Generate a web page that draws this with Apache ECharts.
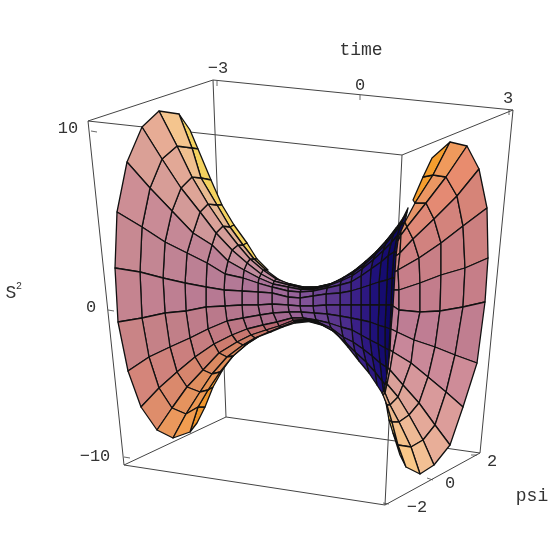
<!DOCTYPE html>
<html><head><meta charset="utf-8">
<style>html,body{margin:0;padding:0;background:#fff}#c{width:554px;height:554px}</style>
<script src="https://cdn.jsdelivr.net/npm/echarts@6/dist/echarts.min.js"></script>
</head><body><div id="c"></div>
<script>
// Mesh vertices (x, y on a 0-554 plane), ring by ring.
const throatRings = [
[[179,114],[159,111],[142,127],[127,162],[117,212],[115,268],[118,322],[128,371],[141,407],[157,430],[173,438],[190,432]],
[[192,148],[177,146],[162,159],[150,188],[142,227],[140,272],[142,318],[149,357],[159,388],[172,408],[186,414],[198,407]],
[[201,178],[192,177],[181,188],[172,211],[165,242],[163,278],[165,313],[170,347],[177,372],[187,387],[200,392],[208,390]],
[[217,205],[208,204],[200,212],[193,233],[187,253],[185,283],[186,311],[190,338],[195,357],[203,370],[212,374],[220,372]],
[[230,227],[223,226],[216,233],[212,245],[207,263],[206,287],[206,307],[208,329],[214,344],[219,353],[227,357],[233,356]],
[[243,245],[238,245],[232,250],[228,261],[225,274],[224,290],[225,306],[227,321],[232,335],[237,342],[243,345],[247,344]],
[[254,259],[250,259],[247,263],[244,270],[243,278],[242,291],[242,305],[243,318],[247,329],[251,335],[255,338],[258,337]],
[[266,270],[263,270],[261,274],[259,278],[258,283],[258,292],[258,305],[260,315],[263,325],[266,330],[269,332],[271,332]],
[[278,279],[276,279],[274,281],[273,284],[272,287],[272,293],[272,304],[273,313],[277,322],[279,326],[281,327],[283,327]],
[[291,285],[290,284],[289,285],[288,287],[288,291],[288,297],[288,305],[289,312],[292,318],[293,320.5],[294,322],[295,323]],
[[305,288],[303,287],[302,288],[301,289.5],[300,292],[300,298],[300,306],[301,312],[303,318],[305,319.5],[307,320.5],[309,321.5]],
[[318,288],[317,287],[315,287.5],[314,289],[313,291],[313,296],[313,306],[314,313],[316,320],[318,322],[320,324],[322,325]],
[[331,284],[330,284],[329,284.5],[328,286],[327,288],[326,294],[326,305],[327,314],[329,323],[331,328],[333,331],[335,332]],
[[344,277],[343,278],[342,279],[341,281],[340,285],[340,293],[340,305],[340,316],[341,327],[343,337],[346,343],[348,347]],
[[355,270],[354,271],[353,273],[352,276],[351,282],[351,291],[351,305],[351,318],[352,330],[353,342],[355,352],[359,361]],
[[366,261],[365,262],[364,265],[362,269],[361,276],[361,288],[361,305],[361,320],[361,335],[363,349],[366,362],[369,373]],
[[377,251],[376,252],[375,255],[373,260],[371,269],[370,285],[370,305],[370,322],[370,340],[372,356],[375,372],[377,385]],
[[387,240],[386,241],[385,245],[383,251],[381,262],[379,282],[379,305],[378,325],[378,344],[380,363],[382,381],[384,396]],
[[396,228],[395,230],[393,235],[391,243],[388,256],[387,280],[386,305],[385,327],[385,348],[386,367],[388,388],[389,412]],
[[403,218],[402,222],[400,226],[397,236],[394,252],[392,278],[391,305],[390,329],[389,350],[389,372],[390,400],[391,420]],
[[408,208],[407,212],[405,222],[402,235],[400,253],[398,278],[397,305],[396,330],[394,352],[393,372],[393,415],[394,435]]
];
const sheetRings = [
[[398,238],[398,241],[396,256],[395,272],[394,290],[393,306],[391,329],[390,350],[388,368],[386,381],[384,391],[382,393]],
[[401,231],[401,235],[400,253],[398,270],[399,290],[399,310],[397,332],[393,352],[390,370],[387,384],[385,393],[383,395]],
[[405,222],[407,227],[413,239],[419,258],[420,283],[420,312],[414,340],[411,363],[403,385],[398,397],[390,405],[387,405]],
[[415,203],[426,203],[434,219],[441,243],[441,275],[440,311],[435,347],[428,377],[419,403],[409,415],[399,422],[392,422]],
[[433,175],[446,177],[457,196],[463,226],[465,268],[463,307],[455,355],[446,392],[435,425],[423,440],[411,447],[398,445]],
[[450,142],[467,146],[479,169],[487,208],[488,258],[485,302],[477,363],[463,407],[450,445],[434,465],[420,474],[406,467]]
];
const leftTopStrip = [[190,130],[198,149],[211,180],[222,205],[234,225],[247,243],[257,259],[268,270]];
const leftBottomStrip = [[197,423],[205,407],[213,387],[222,371],[234,354],[248,342],[258,335]];
const rightTopStrip = [[413,200],[423,177],[432,158]];
const rightBottomStrip = [[386,403],[389,420],[393,433],[400,455]];
// Box corners
const boxEdges = [
[[88,121],[213,80]],[[213,80],[513,110]],[[513,110],[402,155]],[[402,155],[88,121]],
[[124,465],[226,417]],[[226,417],[480,453]],[[480,453],[385,505]],[[385,505],[124,465]],
[[88,121],[124,465]],[[213,80],[226,417]],[[513,110],[480,453]],[[402,155],[385,505]]
];
const tickMarks = [
[[91,131],[97,132]],[[108,310],[114,311]],[[124,457],[130,458]],
[[217,81],[217,86]],[[360,95],[360,100]],[[509,110],[509,115]],
[[427,478],[433,480]],[[383,503],[389,504]],[[477,455],[471,455]]
];
const tickLabels = [
["−3",218,68],["0",360,85],["3",508,98],
["10",68,128],["0",91,307],["−10",95,456],
["2",492,461],["0",450,483],["−2",417,507]
];
const axisTitles = [["time",361,50],["psi",532,496]];

const hex=c=>[parseInt(c.slice(1,3),16),parseInt(c.slice(3,5),16),parseInt(c.slice(5,7),16)];
const mix=(a,b,t)=>{const A=hex(a),B=hex(b);return 'rgb('+A.map((v,i)=>Math.round(v+(B[i]-v)*t)).join(',')+')';};
const toHex=s=>{const m=s.match(/\d+/g).map(Number);return '#'+m.map(v=>v.toString(16).padStart(2,'0')).join('');};
const leftRow=['#f7c88d','#e9ae94','#dca195','#cf9095','#c98a92','#c78590','#cb8585','#d68679','#e08f6b','#ec9a5b','#f5a04f'];
const rightRow=['#f09a5c','#e88c6e','#d68478','#cc8080','#c67e88','#c07e90','#ce8c98','#dc9d9a','#e8ae98','#f3c094','#fac888'];
const ringKeys=[[0,0],[5,.3],[8,.6],[10,.85],[12,1]];
const navy=['#8b5a9c','#5f3a90','#3a2088','#1c0f78','#0a0560'];
function throatColor(i,j){
  const k=i+.5;
  let t=k>=12?1:0;
  for(let n=0;n<ringKeys.length-1;n++){const a=ringKeys[n],b=ringKeys[n+1];if(k>=a[0]&&k<=b[0])t=a[1]+(b[1]-a[1])*(k-a[0])/(b[0]-a[0]);}
  const rowPurple=j<3?'#a070a8':(j>7?'#9a4a78':'#8b5a9c');
  const base=toHex(mix(leftRow[j],rowPurple,t));
  if(k<=10)return base;
  const u=Math.min((k-10)/9,1)*4, q=Math.min(Math.floor(u),3);
  return mix(toHex(mix(navy[q],navy[q+1],u-q)),'#2a2a90',j<2?.3:0);
}
function sheetColor(i,j){
  return mix(rightRow[j],'#b87aa0',(4-i)/5*.45);
}
const cells=[];
function quad(a,b,c,d,color){cells.push({pts:[a,b,c,d],color});}
// back strips first
leftTopStrip.forEach((p,i)=>{
  if(i<leftTopStrip.length-1)quad(throatRings[i][0],p,leftTopStrip[i+1],throatRings[i+1][0],'#f4d25f');});
leftBottomStrip.forEach((p,i)=>{
  if(i<leftBottomStrip.length-1)quad(throatRings[i][11],p,leftBottomStrip[i+1],throatRings[i+1][11],'#f0962c');});
for(let i=throatRings.length-2;i>=0;i--)for(let j=0;j<11;j++){
  quad(throatRings[i][j],throatRings[i][j+1],throatRings[i+1][j+1],throatRings[i+1][j],throatColor(i,j));}
rightTopStrip.forEach((p,i)=>{
  if(i<rightTopStrip.length-1)quad(sheetRings[i+3][0],p,rightTopStrip[i+1],sheetRings[i+4][0],'#f59e2e');});
rightBottomStrip.forEach((p,i)=>{
  if(i<rightBottomStrip.length-1)quad(sheetRings[i+2][11],p,rightBottomStrip[i+1],sheetRings[i+3][11],'#ffd26a');});
for(let i=0;i<sheetRings.length-1;i++)for(let j=0;j<11;j++){
  quad(sheetRings[i][j],sheetRings[i][j+1],sheetRings[i+1][j+1],sheetRings[i+1][j],sheetColor(i,j));}

const lineSeries=(data,color,width)=>({type:'custom',coordinateSystem:'cartesian2d',silent:true,z:1,clip:false,
  data:data.map((e,i)=>[i]),
  renderItem:(p,api)=>{const e=data[api.value(0)];const a=api.coord(e[0]),b=api.coord(e[1]);
    return {type:'line',shape:{x1:a[0],y1:a[1],x2:b[0],y2:b[1]},style:{stroke:color,lineWidth:width}};}});
const font='"Liberation Mono","DejaVu Sans Mono",monospace';
const textSeries=(data,size)=>({type:'custom',coordinateSystem:'cartesian2d',silent:true,z:5,clip:false,
  data:data.map((e,i)=>[i]),
  renderItem:(p,api)=>{const e=data[api.value(0)];const a=api.coord([e[1],e[2]]);
    return {type:'text',x:a[0],y:a[1],style:{text:e[0],font:size+'px '+font,fill:'#333',align:'center',verticalAlign:'middle'}};}});

const chart=echarts.init(document.getElementById('c'),null,{renderer:'canvas'});
chart.setOption({
  animation:false,backgroundColor:'#fff',
  grid:{left:0,right:0,top:0,bottom:0},
  xAxis:{type:'value',min:0,max:554,show:false},
  yAxis:{type:'value',min:0,max:554,inverse:true,show:false},
  series:[
    lineSeries(boxEdges,'#444',1),
    lineSeries(tickMarks,'#444',.8),
    {type:'custom',coordinateSystem:'cartesian2d',silent:true,z:3,clip:false,
     data:cells.map((c,i)=>[i]),
     renderItem:(p,api)=>{const c=cells[api.value(0)];
       return {type:'polygon',shape:{points:c.pts.map(q=>api.coord(q))},
         style:{fill:c.color,stroke:'#111',lineWidth:1.3,lineJoin:'round'}};}},
    textSeries(tickLabels,17),
    textSeries(axisTitles,18),
    {type:'custom',coordinateSystem:'cartesian2d',silent:true,z:5,clip:false,data:[[11,293]],
     renderItem:(p,api)=>{const a=api.coord([api.value(0),api.value(1)]);
       return {type:'group',children:[
        {type:'text',x:a[0],y:a[1],style:{text:'S',font:'18px '+font,fill:'#333',align:'center',verticalAlign:'middle'}},
        {type:'text',x:a[0]+8,y:a[1]-7,style:{text:'2',font:'10px '+font,fill:'#333',align:'center',verticalAlign:'middle'}}]};}}
  ]
});
</script></body></html>
